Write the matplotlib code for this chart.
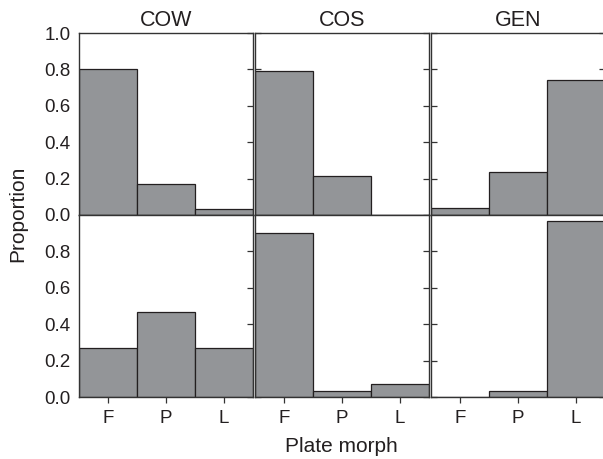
import matplotlib
matplotlib.use("Agg")
import matplotlib.pyplot as plt

plt.rcParams['font.family'] = ['Liberation Sans', 'DejaVu Sans']

groups = ["COW", "COS", "GEN"]
morphs = ["F", "P", "L"]
top_values = {
    "COW": [0.80, 0.17, 0.035],
    "COS": [0.79, 0.214, 0.0],
    "GEN": [0.037, 0.238, 0.74],
}
bottom_values = {
    "COW": [0.267, 0.466, 0.267],
    "COS": [0.90, 0.033, 0.07],
    "GEN": [0.0, 0.035, 0.965],
}
top_yticks = [0.0, 0.2, 0.4, 0.6, 0.8, 1.0]
bottom_yticks = [0.0, 0.2, 0.4, 0.6, 0.8]

W, H = 603, 459
fig = plt.figure(figsize=(W / 100, H / 100), dpi=100)

bar_color = "#939598"
edge_color = "#231f20"
spine_color = "#333333"
text_color = "#231f20"

lefts = [79, 255, 431]
pw = 174
rows = [(33, 215, top_values, top_yticks), (215, 397, bottom_values, bottom_yticks)]

for r, (ytop, ybot, vals, yt) in enumerate(rows):
    for c, g in enumerate(groups):
        ax = fig.add_axes([lefts[c] / W, (H - ybot) / H, pw / W, (ybot - ytop) / H])
        ax.bar(range(3), vals[g], width=1.0, color=bar_color, edgecolor=edge_color,
               linewidth=0.9, zorder=2)
        ax.set_xlim(-0.5, 2.5)
        ax.set_ylim(0, 1.0)
        for s in ax.spines.values():
            s.set_color(spine_color)
            s.set_linewidth(1.0)
            s.set_zorder(3)
        ax.set_yticks(yt)
        ax.tick_params(axis='y', direction='in', length=4, width=0.9, color=spine_color,
                       left=(c > 0), right=True, labelleft=(c == 0), labelsize=13.5,
                       labelcolor=text_color, pad=6)
        if c == 0:
            ax.set_yticklabels([f"{v:.1f}" for v in yt])
        ax.set_xticks(range(3))
        if r == 1:
            ax.set_xticklabels(morphs)
            ax.tick_params(axis='x', direction='out', length=4, width=0.9, color=spine_color,
                           labelsize=13.5, labelcolor=text_color, pad=5.5)
        else:
            ax.tick_params(axis='x', bottom=False, labelbottom=False)
            ax.set_title(g, fontsize=15.5, color=text_color, pad=5)

fig.text(18 / W, 1 - 214 / H, "Proportion", rotation=90, ha='center', va='center',
         fontsize=15, color=text_color)
fig.text(341 / W, 1 - 446 / H, "Plate morph", ha='center', va='center',
         fontsize=15, color=text_color)

fig.savefig("out.png", dpi=100)
